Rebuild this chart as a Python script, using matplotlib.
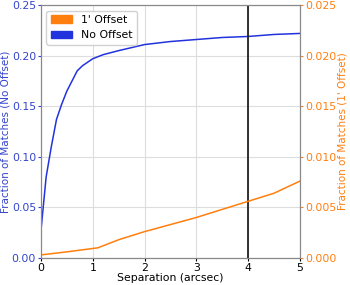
import matplotlib
matplotlib.use('Agg')
import matplotlib.pyplot as plt
from matplotlib.patches import Patch

# Data
sep_blue = [0, 0.1, 0.2, 0.3, 0.4, 0.5, 0.6, 0.7, 0.8, 1.0, 1.2, 1.5, 2.0, 2.5, 3.0, 3.5, 4.0, 4.5, 5.0]
frac_no_offset = [0.027, 0.08, 0.11, 0.137, 0.152, 0.165, 0.175, 0.185, 0.19, 0.197, 0.201,
                  0.205, 0.211, 0.214, 0.216, 0.218, 0.219, 0.221, 0.222]

sep_orange = [0, 0.5, 1.1, 1.5, 2.0, 2.5, 3.0, 3.5, 4.0, 4.5, 5.0]
frac_offset = [0.0003, 0.0006, 0.001, 0.0018, 0.0026, 0.0033, 0.0040, 0.0048, 0.0056, 0.0064, 0.0076]

cut_sep = 4.0

blue = '#2233dd'
blue_txt = '#3344cc'
orange = '#ff7f0e'

fig = plt.figure(figsize=(3.5, 2.85), dpi=100)
ax = fig.add_axes([0.117, 0.095, 0.74, 0.887])
ax2 = ax.twinx()

ax.plot(sep_blue, frac_no_offset, color=blue, linewidth=1.1)
ax2.plot(sep_orange, frac_offset, color=orange, linewidth=1.1)
ax.axvline(cut_sep, color='#222222', linewidth=1.3)

ax.set_xlim(0, 5)
ax.set_ylim(0, 0.25)
ax2.set_ylim(0, 0.025)
ax.set_yticks([0, 0.05, 0.10, 0.15, 0.20, 0.25])
ax2.set_yticks([0, 0.005, 0.010, 0.015, 0.020, 0.025])
ax.grid(True, color='#dddddd', linewidth=0.8)
ax.set_axisbelow(True)

fs = 7.8
ax.set_xlabel('Separation (arcsec)', fontsize=fs, labelpad=0)
ax.set_ylabel('Fraction of Matches (No Offset)', fontsize=7.5, color=blue_txt, labelpad=1)
ax2.set_ylabel("Fraction of Matches (1' Offset)", fontsize=7.5, color=orange, labelpad=1)
ax.tick_params(axis='y', colors=blue_txt, labelsize=fs, length=2.5, pad=1)
ax.tick_params(axis='x', labelsize=fs, length=2.5, pad=1)
ax2.tick_params(axis='y', colors=orange, labelsize=fs, length=2.5, pad=1)
for a in (ax, ax2):
    for s in a.spines.values():
        s.set_color('#888888')

handles = [Patch(color=orange, label="1' Offset"), Patch(color=blue, label='No Offset')]
ax.legend(handles=handles, loc='upper left', fontsize=fs, handlelength=2, framealpha=0.9)

fig.savefig('out.png', dpi=100)
